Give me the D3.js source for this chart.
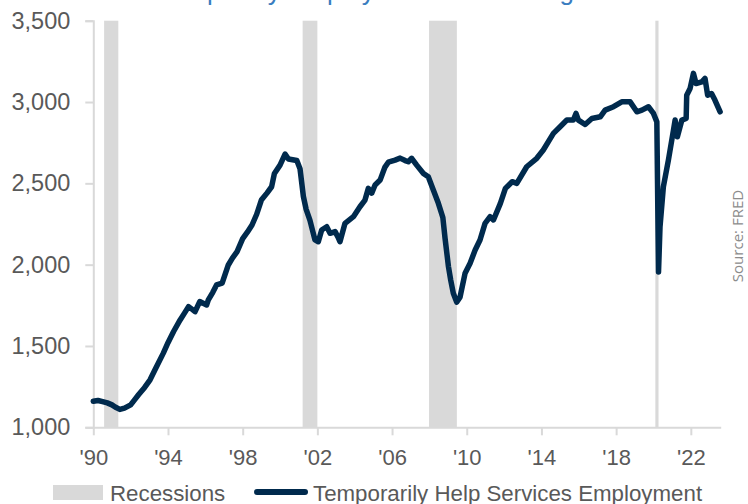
<!DOCTYPE html>
<html>
<head>
<meta charset="utf-8">
<script src="https://cdn.jsdelivr.net/npm/d3@7"></script>
<style>
  body { margin: 0; background: #fff; }
  svg { display: block; }
</style>
</head>
<body>
<div id="chart"></div>
<script>
// monthly-ish readings (decimal year, thousands of jobs)
var years = [
  1990.00, 1990.25, 1990.50, 1990.75, 1991.00, 1991.17, 1991.42, 1991.67, 1992.00, 1992.25,
  1992.42, 1992.75, 1993.04, 1993.33, 1993.75, 1994.00, 1994.30, 1994.65, 1994.90, 1995.10,
  1995.30, 1995.45, 1995.70, 1996.07, 1996.16, 1996.40, 1996.60, 1996.90, 1997.23, 1997.45,
  1997.70, 1998.00, 1998.25, 1998.50, 1998.75, 1999.00, 1999.30, 1999.55, 1999.70, 2000.00,
  2000.27, 2000.45, 2000.90, 2001.07, 2001.25, 2001.40, 2001.60, 2001.87, 2002.05, 2002.23,
  2002.50, 2002.68, 2002.95, 2003.10, 2003.21, 2003.48, 2003.93, 2004.28, 2004.55, 2004.73,
  2004.91, 2005.09, 2005.36, 2005.62, 2005.80, 2006.16, 2006.43, 2006.70, 2006.87, 2007.05,
  2007.32, 2007.68, 2007.94, 2008.21, 2008.48, 2008.72, 2008.84, 2009.02, 2009.14, 2009.28,
  2009.46, 2009.64, 2009.91, 2010.18, 2010.45, 2010.71, 2010.98, 2011.25, 2011.43, 2011.80,
  2012.07, 2012.43, 2012.68, 2013.21, 2013.75, 2014.10, 2014.64, 2015.00, 2015.36, 2015.71,
  2015.85, 2015.98, 2016.34, 2016.70, 2017.15, 2017.41, 2017.86, 2018.30, 2018.75, 2019.11,
  2019.38, 2019.73, 2020.00, 2020.18, 2020.27, 2020.35, 2020.53, 2020.80, 2021.07, 2021.16,
  2021.28, 2021.52, 2021.75, 2021.78, 2021.96, 2022.14, 2022.28, 2022.59, 2022.76, 2022.90,
  2023.11, 2023.29, 2023.57
];
var tempHelp = [
  1160, 1165, 1158, 1150, 1138, 1125, 1110, 1118, 1138, 1175,
  1200, 1245, 1292, 1360, 1456, 1520, 1589, 1660, 1705, 1742,
  1725, 1711, 1773, 1752, 1783, 1830, 1875, 1886, 1998, 2040,
  2080, 2160, 2200, 2244, 2310, 2397, 2440, 2479, 2561, 2612,
  2680, 2650, 2640, 2590, 2420, 2340, 2274, 2152, 2141, 2213,
  2233, 2193, 2203, 2170, 2141, 2254, 2295, 2356, 2397, 2469,
  2440, 2490, 2520, 2600, 2630, 2643, 2655, 2640, 2633, 2654,
  2612, 2561, 2540, 2459, 2377, 2290, 2160, 1988, 1906, 1824,
  1770, 1800, 1947, 2009, 2090, 2152, 2254, 2295, 2275, 2377,
  2469, 2510, 2500, 2602, 2654, 2705, 2807, 2848, 2889, 2889,
  2930, 2889, 2862, 2899, 2909, 2950, 2971, 3001, 3001, 2940,
  2950, 2971, 2930, 2878, 1955, 2233, 2479, 2643, 2827, 2889,
  2786, 2889, 2899, 3042, 3083, 3176, 3114, 3124, 3145, 3042,
  3052, 3012, 2940
];

var recessionStart = [1990.58, 2001.21, 2007.98, 2020.10];
var recessionEnd = [1991.34, 2002.00, 2009.47, 2020.27];

var yTicks = [1000, 1500, 2000, 2500, 3000, 3500];
var xTicks = [1990, 1994, 1998, 2002, 2006, 2010, 2014, 2018, 2022];

var titleText = "Temporary Employment Is Declining";
var sourceText = "Source: FRED";
var legendLabels = ["Recessions", "Temporarily Help Services Employment"];

var width = 748, height = 504;
var margin = {top: 20.7, right: 27.3, bottom: 76.7, left: 93.3};
var lineColor = "#002a4d", barColor = "#d9d9d9", axisColor = "#d9d9d9", textColor = "#595959";
var font = "'Liberation Sans Narrow', 'Source Sans Pro', sans-serif";

var svg = d3.select("#chart").append("svg")
    .attr("width", width)
    .attr("height", height);

var x = d3.scaleLinear()
    .domain([1990, 2023.6])
    .range([margin.left, width - margin.right]);

var y = d3.scaleLinear()
    .domain([1000, 3500])
    .range([height - margin.bottom, margin.top]);

// title, mostly cut off at the top edge
svg.append("text")
    .attr("x", 366)
    .attr("y", 0)
    .attr("text-anchor", "middle")
    .attr("font-family", "'Liberation Sans', sans-serif")
    .attr("font-size", 26)
    .attr("fill", "#3a7dc0")
    .text(titleText);

// recession bars
svg.append("g")
    .selectAll("rect")
    .data(recessionStart)
    .enter()
    .append("rect")
    .attr("x", function (d) { return x(d); })
    .attr("width", function (d, i) { return x(recessionEnd[i]) - x(d); })
    .attr("y", y(3500))
    .attr("height", y(1000) - y(3500))
    .attr("fill", barColor);

// axes
var yAxis = svg.append("g")
    .attr("transform", "translate(" + margin.left + ",0)")
    .call(d3.axisLeft(y).tickValues(yTicks).tickSize(8).tickPadding(15).tickFormat(d3.format(",")));

var xAxis = svg.append("g")
    .attr("transform", "translate(0," + y(1000) + ")")
    .call(d3.axisBottom(x).tickValues(xTicks).tickSize(8).tickSizeOuter(0).tickPadding(14)
        .tickFormat(function (d) { return "'" + String(d).slice(2); }));

[yAxis, xAxis].forEach(function (g) {
    g.selectAll("path, line").attr("stroke", axisColor).attr("stroke-width", 2);
    g.selectAll("text")
        .attr("fill", textColor)
        .attr("font-family", font)
        .attr("font-size", 22);
});
yAxis.selectAll("text").attr("font-size", 23.5);

// the series
var points = years.map(function (d, i) { return [d, tempHelp[i]]; });

var line = d3.line()
    .x(function (d) { return x(d[0]); })
    .y(function (d) { return y(d[1]); });

svg.append("path")
    .datum(points)
    .attr("d", line)
    .attr("fill", "none")
    .attr("stroke", lineColor)
    .attr("stroke-width", 5.5)
    .attr("stroke-linejoin", "round")
    .attr("stroke-linecap", "round");

// source note
svg.append("text")
    .attr("transform", "translate(743,236) rotate(-90)")
    .attr("text-anchor", "middle")
    .attr("font-family", "'Open Sans', sans-serif")
    .attr("font-size", 15)
    .attr("fill", "#8c8c8c")
    .text(sourceText);

// legend
var legend = svg.append("g").attr("font-family", font).attr("font-size", 22.3).attr("fill", textColor);

legend.append("rect")
    .attr("x", 53).attr("y", 485)
    .attr("width", 50).attr("height", 15)
    .attr("fill", barColor);

legend.append("text")
    .attr("x", 110).attr("y", 501)
    .text(legendLabels[0]);

legend.append("line")
    .attr("x1", 257).attr("x2", 305)
    .attr("y1", 492).attr("y2", 492)
    .attr("stroke", lineColor)
    .attr("stroke-width", 6)
    .attr("stroke-linecap", "round");

legend.append("text")
    .attr("x", 313).attr("y", 501)
    .text(legendLabels[1]);
</script>
</body>
</html>
